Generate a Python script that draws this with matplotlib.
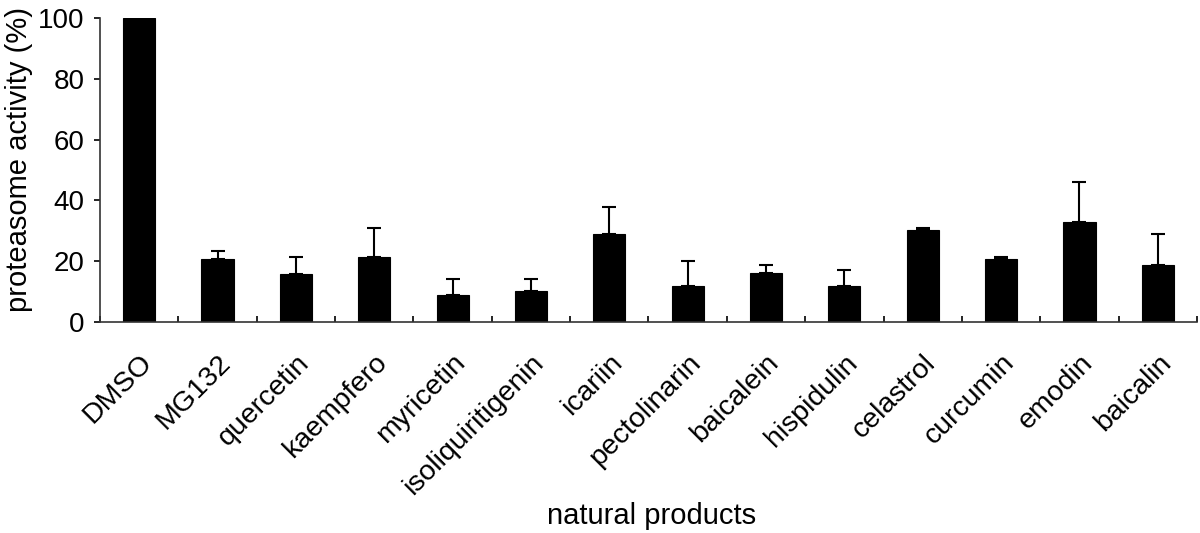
import matplotlib
matplotlib.use("Agg")
import matplotlib.pyplot as plt
import numpy as np

categories = ["DMSO", "MG132", "quercetin", "kaempfero", "myricetin",
              "isoliquiritigenin", "icariin", "pectolinarin", "baicalein",
              "hispidulin", "celastrol", "curcumin", "emodin", "baicalin"]
values = [100, 20.6, 15.7, 21.2, 8.8, 10.1, 28.9, 11.9, 16.2, 11.9, 30.2, 20.8, 32.9, 18.7]
errors = [0, 2.8, 5.5, 9.8, 5.2, 3.9, 8.8, 8.0, 2.4, 5.0, 0.8, 0.4, 13.0, 10.2]
yticks = [0, 20, 40, 60, 80, 100]

plt.rcParams['font.family'] = ['Liberation Sans', 'DejaVu Sans']

fig = plt.figure(figsize=(12, 5.33), dpi=100)
ax = fig.add_axes([0.0833, 0.3964, 0.9142, 0.5693])

x = np.arange(len(categories))
ax.bar(x, values, width=0.41, color='black', edgecolor='black', linewidth=0.8)
lower = np.zeros(len(errors))
ax.errorbar(x, values, yerr=[lower, errors], fmt='none', ecolor='black',
            elinewidth=1.5, capsize=5, capthick=1.5)

ax.set_xlim(-0.5, len(categories) - 0.5)
ax.set_ylim(0, 100)
ax.set_yticks(yticks)
ax.set_yticklabels([str(t) for t in yticks], fontsize=20)
ax.tick_params(axis='y', direction='out', length=4, width=1.2, pad=7)

ax.set_xticks(x)
ax.set_xticklabels(categories, rotation=45, ha='right', rotation_mode='anchor', fontsize=20.5)
ax.tick_params(axis='x', which='major', length=0, pad=20)
ax.set_xticks(np.arange(-0.5, len(categories)), minor=True)
ax.tick_params(axis='x', which='minor', direction='in', length=4, width=1.2)

for s in ['top', 'right']:
    ax.spines[s].set_visible(False)
for s in ['left', 'bottom']:
    ax.spines[s].set_linewidth(1.2)
    ax.spines[s].set_color('#333333')

fig.text(0.016, 0.70, "proteasome activity (%)", fontsize=21, rotation=90,
         ha='center', va='center')
fig.text(0.543, 0.032, "natural products", fontsize=21, ha='center', va='center')

fig.savefig("out.png", dpi=100)
